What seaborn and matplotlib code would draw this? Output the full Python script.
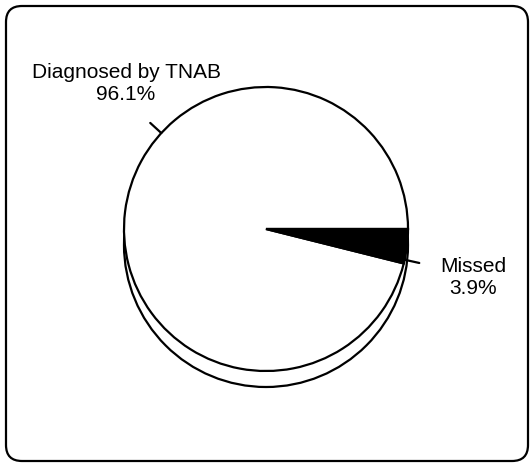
import numpy as np
import matplotlib
matplotlib.use("Agg")
import matplotlib.pyplot as plt
from matplotlib.patches import Circle, FancyBboxPatch
import seaborn as sns

categories = ["Diagnosed by TNAB", "Missed"]
values = [96.1, 3.9]
label_texts = ["Diagnosed by TNAB\n96.1%", "Missed\n3.9%"]

sns.set_theme(style="white")
plt.rcParams['font.family'] = ['Liberation Sans', 'DejaVu Sans']

W, H = 532, 464
fig = plt.figure(figsize=(W / 100, H / 100), dpi=100)
ax = fig.add_axes([0, 0, 1, 1])
ax.set_xlim(0, W)
ax.set_ylim(0, H)
ax.set_axis_off()

# rounded frame
frame = FancyBboxPatch((6, 2), 522, 455, boxstyle="round,pad=0,rounding_size=16",
                       facecolor="white", edgecolor="black", linewidth=1.6, zorder=0)
ax.add_patch(frame)

cx, cy, r = 266, H - 230, 142
depth = 16

# 3D-like bottom edge
shadow = Circle((cx, cy - depth), r, facecolor="white", edgecolor="black",
                linewidth=1.6, zorder=1)
ax.add_patch(shadow)

colors = ["white", "black"]
wedges, _ = ax.pie(values, colors=colors, startangle=0, counterclock=True,
                   center=(cx, cy), radius=r, frame=True,
                   wedgeprops=dict(edgecolor="black", linewidth=1.6))
for w in wedges:
    w.set_zorder(2)
ax.set_xlim(0, W)
ax.set_ylim(0, H)
ax.set_axis_off()

# labels with leader lines
label_angles = [137.5, -12.5]
text_pos = [(126, H - 84), (473, H - 277)]
for ang, txt, (tx, ty) in zip(label_angles, label_texts, text_pos):
    a = np.deg2rad(ang)
    x0, y0 = cx + r * np.cos(a), cy + r * np.sin(a)
    x1, y1 = cx + (r + 15) * np.cos(a), cy + (r + 15) * np.sin(a)
    ax.plot([x0, x1], [y0, y1], color="black", linewidth=1.6, zorder=3)
    ax.text(tx, ty, txt, ha="center", va="center", fontsize=15,
            linespacing=1.2, color="black", zorder=4)

fig.savefig("out.png", dpi=100)
